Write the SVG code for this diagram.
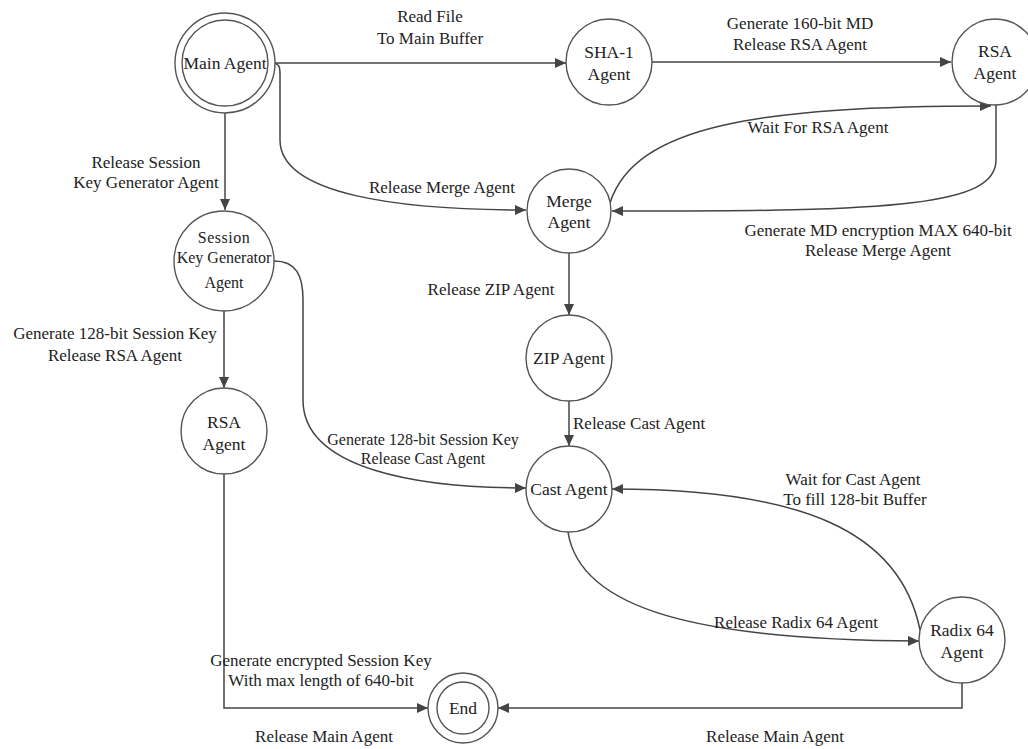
<svg xmlns="http://www.w3.org/2000/svg" width="1028" height="749" viewBox="0 0 1028 749">
<style>
.n{fill:#fff;stroke:#555;stroke-width:1.4}
.c{fill:none;stroke:#444;stroke-width:1.5;marker-end:url(#a)}
text{font-family:"Liberation Serif","Times New Roman",serif;font-size:17px;fill:#222;text-anchor:middle}
.t{font-size:17.5px}
.s{font-size:16px}
.l{text-anchor:start}
</style>
<defs>
<marker id="a" markerUnits="userSpaceOnUse" markerWidth="12" markerHeight="10" refX="11" refY="5" orient="auto">
<path d="M0,0 L11,5 L0,10 Z" fill="#444"/>
</marker>
</defs>
<rect width="1028" height="749" fill="#fff"/>
<g id="connectors">
<path class="c" d="M275 63 L566 63"/>
<path class="c" d="M652 62 L951 62"/>
<path class="c" d="M272 63 C280 63 280 68 280 75 L280 140 C280 195 400 210 526 210"/>
<path class="c" d="M225 113 L225 210"/>
<path class="c" d="M224 311 L224 388"/>
<path class="c" d="M274 261 C296 261 303 275 303 300 L303 400 C303 470 420 488 526 488"/>
<path class="c" d="M569 253 L569 315"/>
<path class="c" d="M569 401 L569 446"/>
<path class="c" d="M610 203 C635 125 760 106 991 106"/>
<path class="c" d="M996 105 L996 160 C996 205 900 212 612 211"/>
<path class="c" d="M568 532 C580 610 700 640 919 641"/>
<path class="c" d="M920 630 C900 530 800 489 612 489"/>
<path class="c" d="M224 474 L224 708 L428 708"/>
<path class="c" d="M962 683 L962 708 L498 708"/>
</g>
<g id="labels">
<text x="430" y="22">Read File</text>
<text x="430" y="44">To Main Buffer</text>
<text x="800" y="29">Generate 160-bit MD</text>
<text x="800" y="50">Release RSA Agent</text>
<text x="146" y="168">Release Session</text>
<text x="146" y="188">Key Generator Agent</text>
<text x="442" y="193">Release Merge Agent</text>
<text x="818" y="133">Wait For RSA Agent</text>
<text x="878" y="236">Generate MD encryption MAX 640-bit</text>
<text x="878" y="256">Release Merge Agent</text>
<text x="491" y="295">Release ZIP Agent</text>
<text x="115" y="339">Generate 128-bit Session Key</text>
<text x="115" y="361">Release RSA Agent</text>
<text class="l" x="573" y="429">Release Cast Agent</text>
<text class="s" x="423" y="445">Generate 128-bit Session Key</text>
<text class="s" x="423" y="464">Release Cast Agent</text>
<text x="853" y="485">Wait for Cast Agent</text>
<text x="855" y="505">To fill 128-bit Buffer</text>
<text x="796" y="628">Release Radix 64 Agent</text>
<text x="321" y="666">Generate encrypted Session Key</text>
<text x="321" y="686">With max length of 640-bit</text>
<text x="324" y="742">Release Main Agent</text>
<text x="775" y="742">Release Main Agent</text>
</g>
<g id="main-agent">
<circle class="n" cx="225" cy="63" r="50"/>
<circle class="n" cx="225" cy="63" r="43"/>
<text class="t" x="225" y="69">Main Agent</text>
</g>
<g id="sha1-agent">
<circle class="n" cx="609" cy="62" r="43"/>
<text class="t" x="609" y="58">SHA-1</text>
<text class="t" x="609" y="80">Agent</text>
</g>
<g id="rsa-agent-top">
<circle class="n" cx="995" cy="62" r="43"/>
<text class="t" x="995" y="57">RSA</text>
<text class="t" x="995" y="79">Agent</text>
</g>
<g id="merge-agent">
<circle class="n" cx="569" cy="211" r="42"/>
<text class="t" x="569" y="207">Merge</text>
<text class="t" x="569" y="228">Agent</text>
</g>
<g id="session-key-generator-agent">
<circle class="n" cx="224" cy="261" r="50"/>
<text class="s" x="224" y="243" letter-spacing="0.5">Session</text>
<text class="s" x="224" y="263">Key Generator</text>
<text class="s" x="224" y="288">Agent</text>
</g>
<g id="zip-agent">
<circle class="n" cx="569" cy="358" r="43"/>
<text class="t" x="569" y="364">ZIP Agent</text>
</g>
<g id="rsa-agent-left">
<circle class="n" cx="224" cy="431" r="43"/>
<text class="t" x="224" y="428">RSA</text>
<text class="t" x="224" y="450">Agent</text>
</g>
<g id="cast-agent">
<circle class="n" cx="569" cy="489" r="43"/>
<text class="t" x="569" y="495">Cast Agent</text>
</g>
<g id="radix64-agent">
<circle class="n" cx="962" cy="640" r="43"/>
<text class="t" x="962" y="636">Radix 64</text>
<text class="t" x="962" y="658">Agent</text>
</g>
<g id="end">
<circle class="n" cx="463" cy="708" r="35"/>
<circle class="n" cx="463" cy="708" r="26"/>
<text class="t" x="463" y="714">End</text>
</g>
</svg>
